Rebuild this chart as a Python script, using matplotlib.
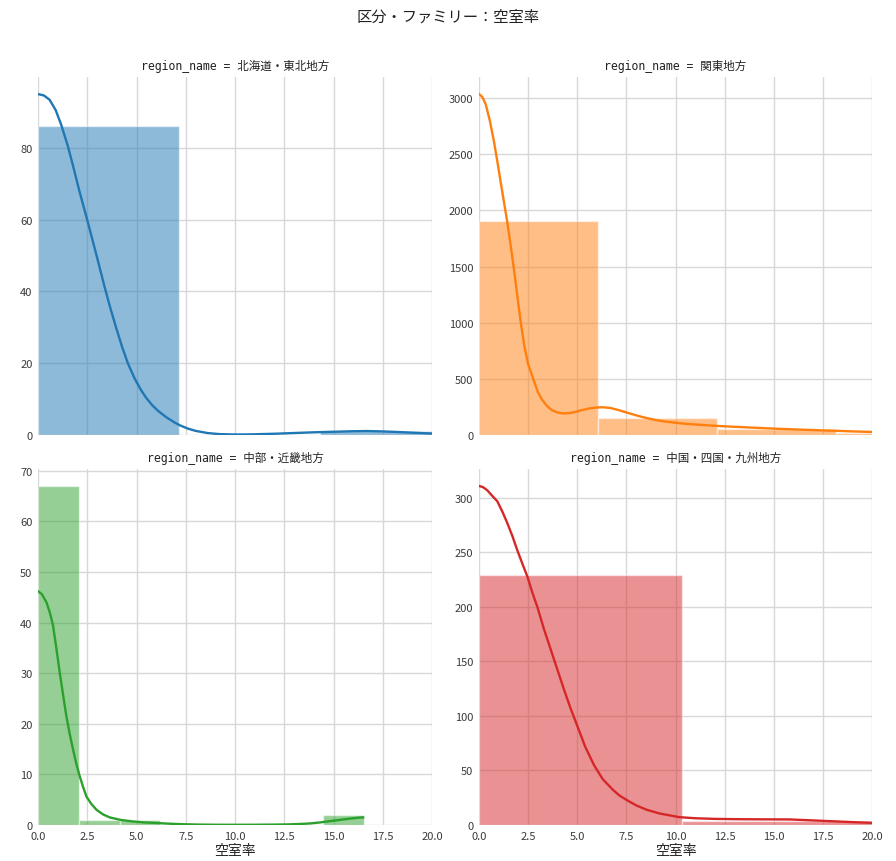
import matplotlib
matplotlib.use("Agg")
import matplotlib.pyplot as plt
import numpy as np

plt.rcParams['font.family'] = ['Noto Sans CJK JP', 'DejaVu Sans']

title = "区分・ファミリー：空室率"
xlabel = "空室率"
regions = ["北海道・東北地方", "関東地方", "中部・近畿地方", "中国・四国・九州地方"]
colors = ["#1f77b4", "#ff7f0e", "#2ca02c", "#d62728"]

# histogram bin edges and counts per region
edges_hokkaido = [0.0, 7.15, 14.3, 21.45]
counts_hokkaido = [86, 0, 1]
edges_kanto = [0.0, 6.05, 12.1, 18.15, 24.2]
counts_kanto = [1910, 147, 55, 22]
edges_chubu = [0.0, 2.07, 4.14, 6.21, 8.28, 10.35, 12.42, 14.49, 16.56]
counts_chubu = [67, 1, 1, 0, 0, 0, 0, 2]
edges_chugoku = [0.0, 10.34, 20.68]
counts_chugoku = [229, 4]

# KDE curves (x, count-scaled density)
kde_x_hokkaido = [0.0, 0.3, 0.59, 0.9, 1.18, 1.5, 1.77, 2.1, 2.5, 2.95, 3.37, 3.65, 3.96, 4.26,
                  4.56, 4.9, 5.22, 5.5, 5.8, 6.1, 6.5, 6.9, 7.2, 7.6, 8.0, 8.6, 9.2, 9.9, 10.5,
                  11.0, 12.0, 13.0, 14.0, 15.0, 16.0, 16.7, 17.5, 18.4, 19.2, 20.0]
kde_y_hokkaido = [95.0, 94.6, 93.4, 90.5, 86.4, 80.8, 75.2, 68.0, 59.9, 50.5, 41.5, 35.8, 30.0, 24.7,
                  20.0, 15.8, 12.6, 10.3, 8.3, 6.7, 5.0, 3.6, 2.7, 1.8, 1.15, 0.55, 0.25, 0.15, 0.15,
                  0.2, 0.35, 0.55, 0.75, 0.9, 1.05, 1.1, 1.0, 0.8, 0.6, 0.4]
kde_x_kanto = [0.0, 0.17, 0.34, 0.55, 0.76, 0.93, 1.1, 1.27, 1.44, 1.61, 1.78, 1.95, 2.12, 2.3,
               2.5, 2.76, 3.0, 3.19, 3.45, 3.7, 4.0, 4.29, 4.6, 4.9, 5.2, 5.6, 6.0, 6.32, 6.7,
               7.1, 7.5, 8.0, 8.5, 9.0, 9.5, 9.9, 10.5, 11.3, 12.1, 13.0, 14.0, 15.0, 16.0,
               17.0, 18.4, 19.2, 20.0]
kde_y_kanto = [3036, 3010, 2946, 2800, 2615, 2440, 2255, 2075, 1895, 1690, 1474, 1240, 1009, 800,
               630, 500, 380, 320, 260, 222, 200, 192, 195, 205, 220, 236, 245, 247, 240,
               222, 201, 175, 152, 133, 119, 111, 100, 90, 81, 73, 65, 57, 50,
               44, 36, 31, 27]
kde_x_chubu = [0.0, 0.2, 0.43, 0.6, 0.76, 0.93, 1.1, 1.27, 1.44, 1.61, 1.78, 1.95, 2.12, 2.3,
               2.46, 2.7, 2.97, 3.3, 3.64, 4.2, 4.82, 5.4, 6.0, 6.7, 7.4, 8.2, 9.0, 10.0, 11.0,
               12.0, 12.7, 13.3, 13.8, 14.3, 14.8, 15.3, 15.8, 16.2, 16.5]
kde_y_chubu = [46.2, 45.6, 44.0, 42.0, 39.5, 35.0, 30.2, 25.8, 21.5, 18.0, 14.9, 12.0, 9.6, 7.4,
               5.6, 4.2, 3.0, 2.1, 1.5, 1.0, 0.7, 0.5, 0.4, 0.25, 0.15, 0.08, 0.05, 0.04, 0.05,
               0.08, 0.12, 0.2, 0.3, 0.5, 0.75, 1.0, 1.25, 1.42, 1.5]
kde_x_chugoku = [0.0, 0.2, 0.42, 0.67, 0.93, 1.2, 1.44, 1.7, 1.95, 2.2, 2.46, 2.7, 2.97, 3.3,
                 3.65, 4.0, 4.33, 4.66, 5.0, 5.4, 5.85, 6.3, 6.83, 7.15, 7.51, 8.0, 8.53, 9.2,
                 10.2, 11.0, 12.0, 13.3, 14.5, 15.8, 17.0, 18.4, 19.2, 20.0]
kde_y_chugoku = [311, 310, 307, 302, 297, 287, 277, 265, 252, 240, 228, 214, 200, 180,
                 161, 142, 124, 107, 91, 72, 55, 42, 32, 27, 23, 18, 14, 10.5,
                 7.2, 6.2, 5.6, 5.3, 5.2, 5.1, 4.2, 3.1, 2.5, 2.0]

edges_all = [edges_hokkaido, edges_kanto, edges_chubu, edges_chugoku]
counts_all = [counts_hokkaido, counts_kanto, counts_chubu, counts_chugoku]
kx_all = [kde_x_hokkaido, kde_x_kanto, kde_x_chubu, kde_x_chugoku]
ky_all = [kde_y_hokkaido, kde_y_kanto, kde_y_chubu, kde_y_chugoku]

x_ticks = [0.0, 2.5, 5.0, 7.5, 10.0, 12.5, 15.0, 17.5, 20.0]
x_ticklabels = ["0.0", "2.5", "5.0", "7.5", "10.0", "12.5", "15.0", "17.5", "20.0"]
y_ticks_all = [[0, 20, 40, 60, 80],
               [0, 500, 1000, 1500, 2000, 2500, 3000],
               [0, 10, 20, 30, 40, 50, 60, 70],
               [0, 50, 100, 150, 200, 250, 300]]

W, H = 896, 862
fig = plt.figure(figsize=(W / 100, H / 100), dpi=100)

lefts = [38, 479, 38, 479]
rights = [432, 872, 432, 872]
tops = [78, 78, 470, 470]
bottoms = [436, 436, 826, 826]

for i in range(4):
    ax = fig.add_axes([lefts[i] / W, 1 - bottoms[i] / H,
                       (rights[i] - lefts[i]) / W, (bottoms[i] - tops[i]) / H])
    ax.set_axisbelow(True)
    ax.grid(True, color="#d8d8d8", linewidth=1.0)
    e = np.array(edges_all[i])
    c = np.array(counts_all[i])
    ax.bar(e[:-1], c, width=np.diff(e), align="edge", color=colors[i],
           alpha=0.5, edgecolor="white", linewidth=1.0)
    ax.plot(kx_all[i], ky_all[i], color=colors[i], linewidth=1.7,
            solid_joinstyle="round")
    ax.set_xlim(0, 20)
    ax.set_xticks(x_ticks)
    ax.set_yticks(y_ticks_all[i])
    ax.set_ylim(0, max(max(ky_all[i]), max(counts_all[i])) * 1.05)
    for s in ax.spines.values():
        s.set_visible(False)
    ax.tick_params(length=0, labelsize=8, colors="#3a3a3a", pad=4)
    if i >= 2:
        ax.set_xticklabels(x_ticklabels)
        ax.set_xlabel(xlabel, fontsize=10, color="#222222", labelpad=2)
    else:
        ax.set_xticklabels([])
    ax.set_title("region_name = " + regions[i], fontsize=8.3,
                 family=['DejaVu Sans Mono', 'Noto Sans CJK JP'],
                 color="#222222", pad=6)

fig.text(0.5, 1 - 17 / H, title, ha="center", va="center", fontsize=11, color="#222222")

fig.savefig("out.png", dpi=100)
